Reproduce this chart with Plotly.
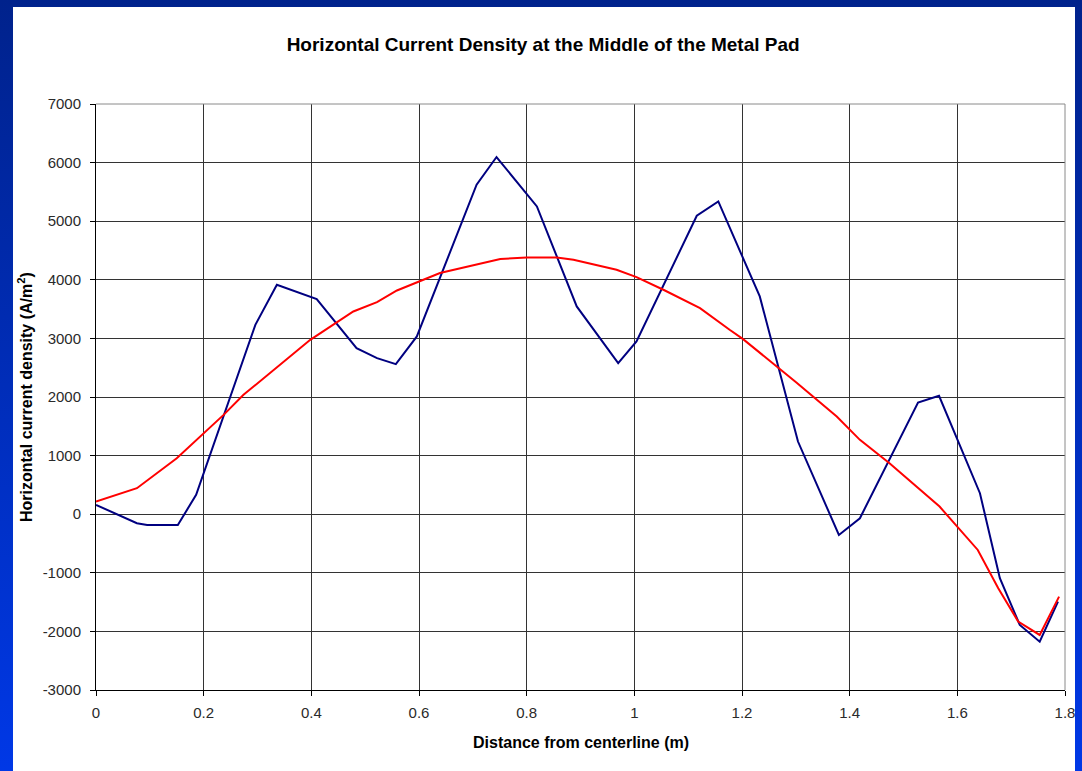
import base64
import plotly.graph_objects as go

# ---------------- data ----------------
blue_x = [0.0, 0.076, 0.095, 0.152, 0.186, 0.296, 0.336, 0.410, 0.484, 0.522, 0.557,
          0.596, 0.707, 0.744, 0.819, 0.893, 0.970, 1.004, 1.116, 1.156, 1.233, 1.304,
          1.380, 1.419, 1.527, 1.566, 1.642, 1.679, 1.716, 1.753, 1.787]
blue_y = [159, -154, -183, -183, 330, 3232, 3915, 3670, 2834, 2663, 2561,
          3033, 5622, 6095, 5252, 3545, 2578, 2947, 5093, 5337, 3716, 1240,
          -354, -69, 1906, 2020, 358, -1093, -1890, -2175, -1492]

red_x = [0.0, 0.076, 0.150, 0.200, 0.237, 0.274, 0.330, 0.398, 0.478, 0.522, 0.559,
         0.602, 0.639, 0.751, 0.800, 0.856, 0.887, 0.967, 1.004, 1.054, 1.122, 1.177,
         1.202, 1.301, 1.376, 1.419, 1.474, 1.567, 1.638, 1.676, 1.713, 1.753, 1.789]
red_y = [215, 444, 956, 1383, 1695, 2037, 2464, 2976, 3459, 3620, 3818,
         3972, 4115, 4354, 4381, 4381, 4342, 4171, 4046, 3830, 3517, 3147,
         2988, 2247, 1666, 1269, 871, 130, -610, -1263, -1833, -2061, -1407]

x_tickvals = [0, 0.2, 0.4, 0.6, 0.8, 1.0, 1.2, 1.4, 1.6, 1.8]
x_ticktext = ["0", "0.2", "0.4", "0.6", "0.8", "1", "1.2", "1.4", "1.6", "1.8"]
y_tickvals = [-3000, -2000, -1000, 0, 1000, 2000, 3000, 4000, 5000, 6000, 7000]
y_ticktext = ["-3000", "-2000", "-1000", "0", "1000", "2000", "3000", "4000", "5000", "6000", "7000"]

title_text = "Horizontal Current Density at the Middle of the Metal Pad"
x_title = "Distance from centerline (m)"
y_title = "Horizontal current density (A/m<sup>2</sup>)"

# ---------------- layout geometry ----------------
W, H = 1082, 771
ML, MR, MT, MB = 96, 17, 104, 81
PW, PH = W - ML - MR, H - MT - MB

FONT = "Liberation Sans, Arial, sans-serif"

# blue slide frame (gradient) as an SVG overlay
svg = f'''<svg xmlns="http://www.w3.org/2000/svg" width="{W}" height="{H}" viewBox="0 0 {W} {H}">
<defs><linearGradient id="g" x1="0" y1="0" x2="0" y2="1">
<stop offset="0" stop-color="#00228C"/><stop offset="1" stop-color="#0038E6"/></linearGradient></defs>
<path fill="url(#g)" fill-rule="evenodd" d="M0 0H{W}V{H}H0Z M13 7V{H}H1075V7Z"/></svg>'''
svg_uri = "data:image/svg+xml;base64," + base64.b64encode(svg.encode()).decode()

fig = go.Figure()
fig.add_trace(go.Scatter(x=blue_x, y=blue_y, mode="lines",
                         line=dict(color="#000080", width=2), showlegend=False))
fig.add_trace(go.Scatter(x=red_x, y=red_y, mode="lines",
                         line=dict(color="#FF0000", width=2), showlegend=False))

axis_common = dict(showgrid=True, gridcolor="#333333", gridwidth=1, zeroline=False,
                   showline=True, linecolor="black", linewidth=1,
                   ticks="outside", ticklen=5, tickcolor="black",
                   tickfont=dict(family=FONT, size=15, color="#2a2a2a"))

fig.update_xaxes(range=[0, 1.8], tickvals=x_tickvals, ticktext=x_ticktext,
                 ticklabelstandoff=4, **axis_common)
fig.update_yaxes(range=[-3000, 7000], tickvals=y_tickvals, ticktext=y_ticktext,
                 ticklabelstandoff=6, **axis_common)

fig.update_layout(
    width=W, height=H,
    margin=dict(l=ML, r=MR, t=MT, b=MB, autoexpand=False),
    paper_bgcolor="white", plot_bgcolor="white",
    title=dict(text=title_text, x=0.502, xref="container", xanchor="center",
               y=1 - 44 / H, yref="container", yanchor="middle",
               font=dict(family=FONT, size=19, color="black", weight="bold")),
    shapes=[
        dict(type="line", xref="paper", yref="paper", x0=0, x1=1, y0=1, y1=1,
             line=dict(color="#8a8a8a", width=1), layer="above"),
        dict(type="line", xref="paper", yref="paper", x0=1, x1=1, y0=0, y1=1,
             line=dict(color="#8a8a8a", width=1), layer="above"),
    ],
    annotations=[
        dict(text=x_title, xref="paper", yref="paper", x=0.5, y=-(742 - (MT + PH)) / PH,
             xanchor="center", yanchor="middle", showarrow=False,
             font=dict(family=FONT, size=16, color="black", weight="bold")),
        dict(text=y_title, xref="paper", yref="paper", x=-(ML - 25) / PW,
             y=(MT + PH - 397) / PH, xanchor="center", yanchor="middle",
             textangle=-90, showarrow=False,
             font=dict(family=FONT, size=16, color="black", weight="bold")),
    ],
    images=[dict(source=svg_uri, xref="paper", yref="paper",
                 x=-ML / PW, y=1 + MT / PH, sizex=W / PW, sizey=H / PH,
                 xanchor="left", yanchor="top", sizing="stretch", layer="above")],
)

fig.write_html("out.html")
